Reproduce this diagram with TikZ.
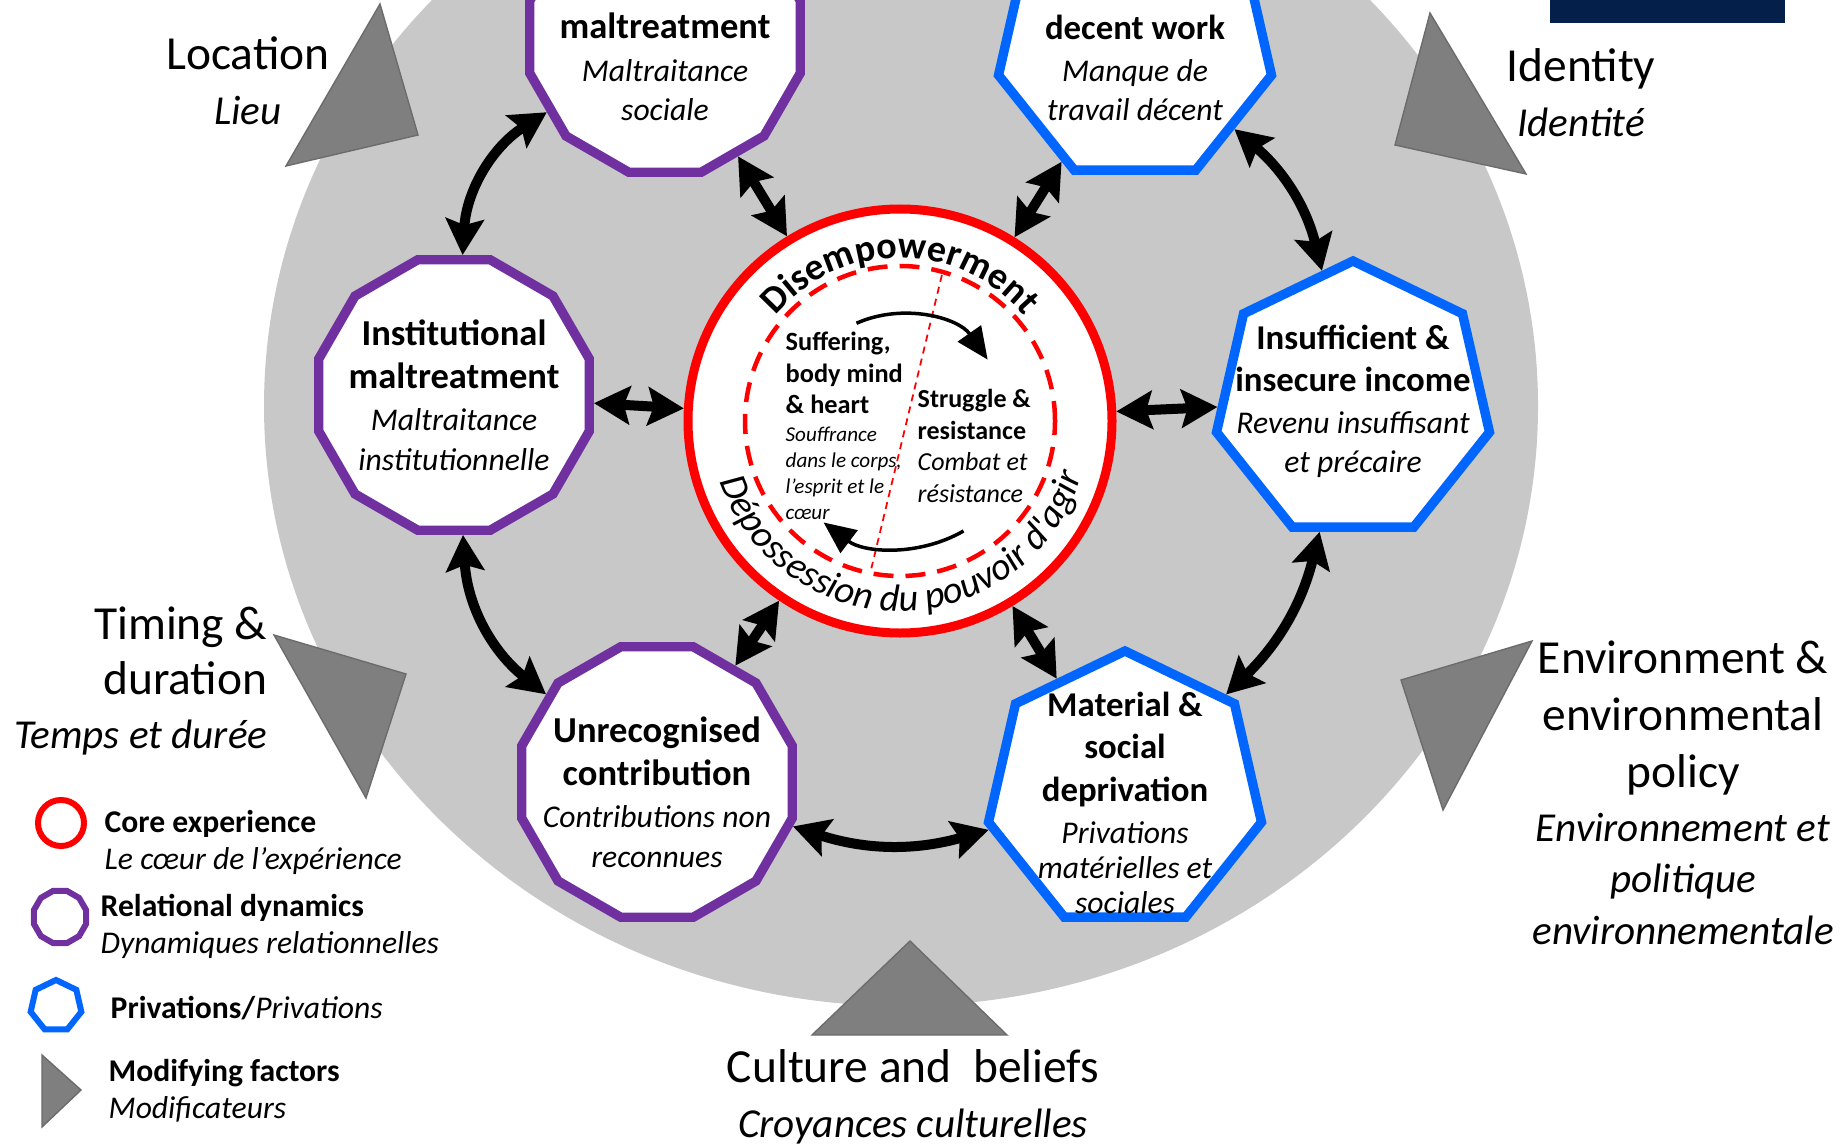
\documentclass[tikz,border=0pt]{standalone}
\usepackage{fontspec}
\setmainfont{Carlito}[Ligatures=TeXOff]
\usetikzlibrary{arrows.meta,calc,decorations.text,shapes.geometric,positioning}

\definecolor{ringgray}{HTML}{C8C8C8}
\definecolor{modgray}{HTML}{7F7F7F}
\definecolor{relpurple}{HTML}{7030A0}
\definecolor{privblue}{HTML}{0066FF}
\definecolor{corered}{HTML}{FF0000}
\definecolor{logonavy}{HTML}{041F4A}

\tikzset{
  reldyn/.style={regular polygon,regular polygon sides=12,draw=relpurple,line width=0.094cm,fill=white,minimum size=2.8cm,inner sep=0},
  priv/.style={regular polygon,regular polygon sides=7,draw=privblue,line width=0.094cm,fill=white,minimum size=2.8cm,inner sep=0},
  modtri/.style={fill=modgray,draw=modgray!85!black,line width=0.4pt},
  dblarrow/.style={{Stealth[length=0.36cm,width=0.38cm,inset=0.06cm]}-{Stealth[length=0.36cm,width=0.38cm,inset=0.06cm]},line width=0.1cm},
  cycarrow/.style={-{Triangle[length=0.32cm,width=0.28cm]},line width=0.035cm},
  boxtext/.style={align=center,inner sep=0,font=\fontsize{10.4}{12.2}\selectfont},
  privtext/.style={boxtext,font=\fontsize{9.9}{12}\selectfont},
  factor/.style={align=center,inner sep=0,font=\fontsize{13.5}{15.6}\selectfont},
  legendtext/.style={align=left,anchor=west,inner sep=0,font=\fontsize{9}{10.5}\selectfont}
}
\newcommand{\fren}[1]{{\fontsize{9}{11}\selectfont\itshape #1}}
\newcommand{\facit}[1]{{\fontsize{11.7}{14}\selectfont\itshape #1}}

\begin{document}
\begin{tikzpicture}
\useasboundingbox (0,0) rectangle (18.45,11.45);
\fill[white] (0,0) rectangle (18.45,11.45);
\clip (0,0) rectangle (18.45,11.45);

% background disc and banner
\fill[ringgray] (9.01,7.39) ellipse[x radius=6.37cm,y radius=6.00cm];
\fill[logonavy] (15.50,11.22) rectangle (17.85,11.50);

% modifying factors
\fill[modtri] (3.80,11.41) -- (4.18,10.10) -- (2.86,9.79) -- cycle;
\fill[modtri] (14.30,11.32) -- (15.26,9.71) -- (13.95,10.00) -- cycle;
\fill[modtri] (2.74,5.10) -- (4.06,4.71) -- (3.66,3.47) -- cycle;
\fill[modtri] (15.32,5.04) -- (14.43,3.35) -- (14.01,4.65) -- cycle;
\fill[modtri] (9.10,2.04) -- (10.07,1.10) -- (8.12,1.10) -- cycle;

% Nodes
\node[circle,draw=corered,line width=0.09cm,fill=white,minimum size=4.24cm,inner sep=0] (core) at (9.00,7.24) {};
\node[reldyn] (soc) at (6.65,11.08) {};
\node[priv] (dec) at (11.35,11.01) {};
\node[reldyn] (inst) at (4.54,7.50) {};
\node[priv] (ins) at (13.53,7.44) {};
\node[reldyn] (unrec) at (6.57,3.63) {};
\node[priv] (mat) at (11.25,3.54) {};

\node[boxtext,yshift=-0.3cm] (soc-t) at (soc) {\textbf{maltreatment}\\ \fren{Maltraitance}\\[-1pt] \fren{sociale}};
\node[privtext,yshift=-0.24cm] (dec-t) at (dec) {\textbf{decent work}\\ \fren{Manque de}\\[-1pt] \fren{travail décent}};
\node[boxtext] (inst-t) at (inst) {\textbf{Institutional}\\ \textbf{maltreatment}\\ \fren{Maltraitance}\\[-1pt] \fren{institutionnelle}};
\node[privtext] (ins-t) at (ins) {\textbf{Insufficient \&}\\ \textbf{insecure income}\\ \fren{Revenu insuffisant}\\[-1pt] \fren{et précaire}};
\node[boxtext,yshift=-0.1cm] (unrec-t) at (unrec) {\textbf{Unrecognised}\\ \textbf{contribution}\\ \fren{Contributions non}\\[-1pt] \fren{reconnues}};
\node[privtext,yshift=-0.12cm] (mat-t) at (mat) {\textbf{Material \&}\\ \textbf{social}\\ \textbf{deprivation}\\ \fren{Privations}\\[-2pt] \fren{matérielles et}\\[-2pt] \fren{sociales}};

% core experience
\draw[corered,line width=0.045cm,dash pattern=on 0.2cm off 0.12cm] (core.center) circle[radius=1.55cm];
\draw[corered,line width=0.5pt,dash pattern=on 2pt off 1.5pt] ($(core.center)+(74:1.52)$) -- ($(core.center)+(259:1.50)$);
\path[decorate,decoration={text along path,text align=center,text={|\fontsize{10.8}{12}\selectfont\bfseries|Disempowerment}}] ($(core.center)+(150:1.63)$) arc[start angle=150,end angle=30,radius=1.63cm];
\path[decorate,decoration={text along path,text align=center,text={|\fontsize{10.9}{12}\selectfont\itshape|Dépossession du pouvoir d'agir}}] ($(core.center)+(190:1.9)$) arc[start angle=190,end angle=352,radius=1.9cm];
\draw[cycarrow] ($(core.center)+(114:1.07)$) arc[start angle=114,end angle=35,radius=1.07cm];
\draw[cycarrow] ($(core.center)+(300:1.27)$) arc[start angle=300,end angle=233,radius=1.27cm];
\node[anchor=west,align=left,inner sep=0,font=\fontsize{7.5}{9}\selectfont] (suff) at ($(core.center)+(-1.15,-0.05)$) {\textbf{Suffering,}\\ \textbf{body mind}\\ \textbf{\& heart}\\[-1pt] {\fontsize{6}{7}\selectfont\itshape Souffrance}\\[-1.6pt] {\fontsize{6}{7}\selectfont\itshape dans le corps,}\\[-1.6pt] {\fontsize{6}{7}\selectfont\itshape l’esprit et le}\\[-1.6pt] {\fontsize{6}{7}\selectfont\itshape cœur}};
\node[anchor=west,align=left,inner sep=0,font=\fontsize{7.4}{9}\selectfont] (strug) at ($(core.center)+(0.17,-0.25)$) {\textbf{Struggle \&}\\ \textbf{resistance}\\ \textit{Combat et}\\ \textit{résistance}};

%arcs
\path (soc) edge[dblarrow] (core);
\path (dec) edge[dblarrow] (core);
\path (inst) edge[dblarrow] (core);
\path (ins) edge[dblarrow] (core);
\path (unrec) edge[dblarrow] (core);
\path (mat) edge[dblarrow] (core);
\path (soc) edge[dblarrow,bend right=27] (inst);
\path (inst) edge[dblarrow,bend right=24] (unrec);
\path (unrec) edge[dblarrow,bend right=17] (mat);
\path (mat) edge[dblarrow,bend right=16] (ins);
\path (ins) edge[dblarrow,bend right=18] (dec);

% factor labels
\node[factor] (loc) at (2.48,10.64) {Location\\ \facit{Lieu}};
\node[factor] (ident) at (15.81,10.52) {Identity\\ \facit{Identité}};
\node[factor,align=right,anchor=east] (tim) at (2.68,4.64) {Timing \&\\ duration\\ \facit{Temps et durée}};
\node[factor,font=\fontsize{13.5}{16.2}\selectfont] (env) at (16.83,3.52) {Environment \&\\ environmental\\ policy\\[-1pt] \facit{Environnement et}\\[-1.5pt] \facit{politique}\\[-1.5pt] \facit{environnementale}};
\node[factor] (cul) at (9.13,0.48) {Culture and~ beliefs\\ \facit{Croyances culturelles}};

% legend
\node[circle,draw=corered,line width=0.06cm,minimum size=0.46cm,inner sep=0] (leg-core) at (0.61,3.22) {};
\node[legendtext] (leg-core-t) at (1.04,3.03) {\textbf{Core experience}\\ \textit{Le cœur de l’expérience}};
\node[reldyn,minimum size=0.54cm,line width=0.06cm] (leg-rel) at (0.60,2.28) {};
\node[legendtext] (leg-rel-t) at (1.00,2.19) {\textbf{Relational dynamics}\\ \textit{Dynamiques relationnelles}};
\node[priv,minimum size=0.52cm,line width=0.06cm] (leg-priv) at (0.56,1.39) {};
\node[legendtext] (leg-priv-t) at (1.10,1.37) {\textbf{Privations/}\textit{Privations}};
\fill[modtri] (0.42,0.90) -- (0.81,0.55) -- (0.42,0.18) -- cycle;
\node[legendtext] (leg-mod-t) at (1.08,0.54) {\textbf{Modifying factors}\\ \textit{Modificateurs}};

\end{tikzpicture}
\end{document}
